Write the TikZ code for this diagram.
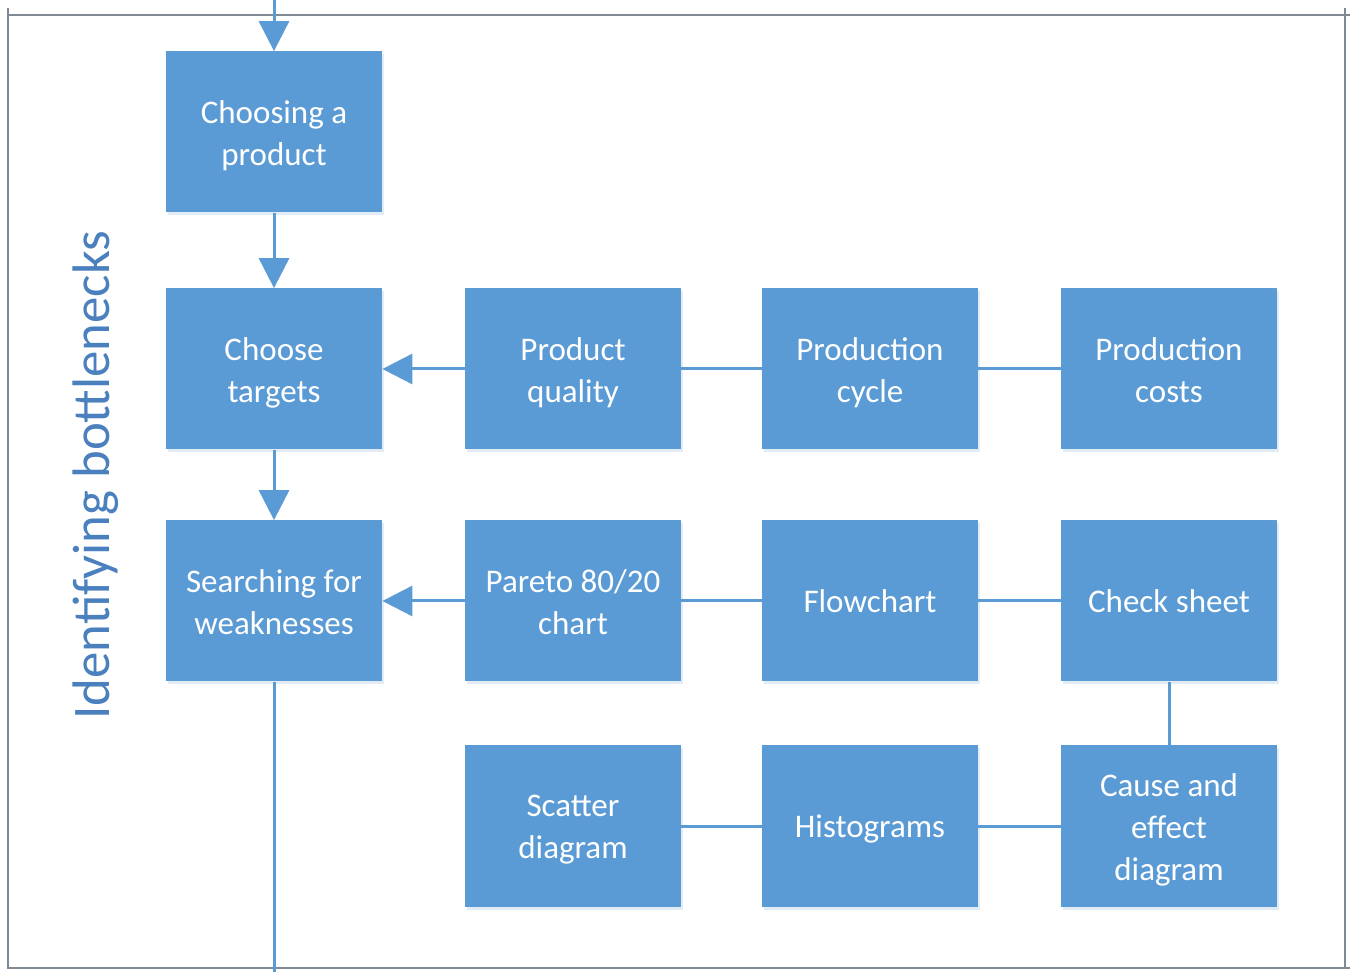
\documentclass[tikz,border=0pt]{standalone}
\usepackage{fontspec}
\setmainfont{Carlito}
\usetikzlibrary{arrows.meta,shadows}
\definecolor{boxblue}{HTML}{5B9BD5}
\definecolor{framegray}{HTML}{7F8A94}
\definecolor{lanetext}{HTML}{4A80BD}
\begin{document}
\begin{tikzpicture}[x=0.5pt,y=-0.5pt,
  stepbox/.style={fill=boxblue, draw=none, minimum width=108pt, minimum height=80.5pt,
    inner sep=0pt,
    drop shadow={shadow xshift=1pt, shadow yshift=-1.5pt, opacity=0.18, fill=boxblue}},
  boxlabel/.style={text=white, align=center, inner sep=0pt,
    font=\fontsize{16.5}{21}\selectfont,
    execute at begin node=\strut, execute at end node=\strut, yshift=-3.5pt},
  oneline/.style={boxlabel, yshift=2pt},
  link/.style={draw=boxblue, line width=1.5pt},
  flow/.style={link, -{Triangle[width=15pt,length=15pt]}}]
\useasboundingbox (0,0) rectangle (1350,972);
\fill[white] (0,0) rectangle (1350,972);

% lane frame
\draw[framegray, line width=1.2pt] (8,8) -- (8,968) -- (1350,968);
\draw[framegray, line width=1.2pt] (8,15) -- (1350,15);
\draw[framegray, line width=1.2pt] (1345,8) -- (1345,968);

% lane title
\node[rotate=90, text=lanetext, font=\fontsize{26.4}{32}\selectfont] (lane) at (96,475) {Identifying bottlenecks};

% main column
\node[stepbox, label={[boxlabel]center:Choosing a\\product}] (choose) at (274,132) {};
\node[stepbox, label={[boxlabel]center:Choose\\targets}] (targets) at (274,369) {};
\node[stepbox, label={[boxlabel]center:Searching for\\weaknesses}] (search) at (274,601) {};

% target criteria
\node[stepbox, label={[boxlabel]center:Product\\quality}] (quality) at (573,369) {};
\node[stepbox, label={[boxlabel]center:Production\\cycle}] (cycle) at (870,369) {};
\node[stepbox, label={[boxlabel]center:Production\\costs}] (costs) at (1169,369) {};

% quality tools
\node[stepbox, label={[boxlabel]center:Pareto 80/20\\chart}] (pareto) at (573,601) {};
\node[stepbox, label={[oneline]center:Flowchart}] (flow) at (870,601) {};
\node[stepbox, label={[oneline]center:Check sheet}] (check) at (1169,601) {};
\node[stepbox, label={[boxlabel]center:Scatter\\diagram}] (scatter) at (573,826) {};
\node[stepbox, label={[oneline]center:Histograms}] (histo) at (870,826) {};
\node[stepbox, label={[boxlabel]center:Cause and\\effect\\diagram}] (cause) at (1169,826) {};

\coordinate (in)  at (274,0);
\coordinate (out) at (274,972);

% flow through the main column
\draw[flow] (in) -- (choose.north);
\draw[flow] (choose) -- (targets);
\draw[flow] (targets) -- (search);
\draw[link] (search) -- (out);

% inputs from the side rows
\draw[flow] (quality) -- (targets);
\draw[link] (quality) -- (cycle);
\draw[link] (cycle) -- (costs);
\draw[flow] (pareto) -- (search);
\draw[link] (pareto) -- (flow);
\draw[link] (flow) -- (check);
\draw[link] (check) -- (cause);
\draw[link] (scatter) -- (histo);
\draw[link] (histo) -- (cause);
\end{tikzpicture}
\end{document}
